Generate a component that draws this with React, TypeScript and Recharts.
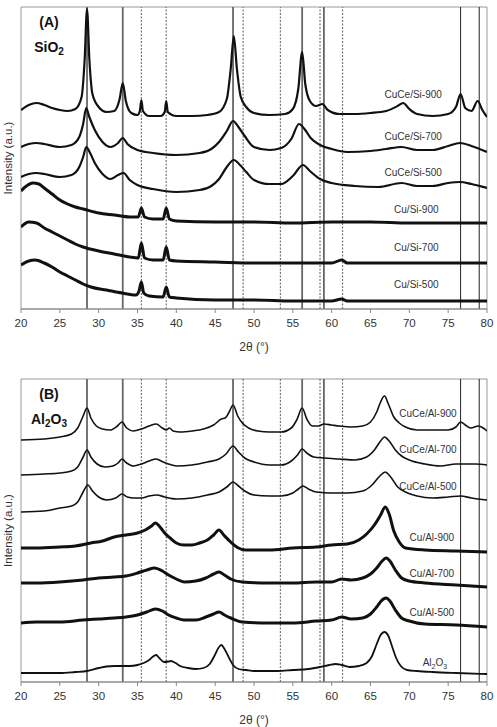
import React from 'react';
import { LineChart, Line, XAxis, YAxis, ReferenceLine, ReferenceArea, ReferenceDot } from 'recharts';

type P = [number, number];

const xTicks = [20, 25, 30, 35, 40, 45, 50, 55, 60, 65, 70, 75, 80];
const solidRefs = [28.5, 33.1, 47.3, 56.2, 59.0];
const thinRefs = [76.6, 79.0];
const dashedRefs = [35.5, 38.7, 48.6, 53.4, 58.5, 61.4];

// Panel A (SiO2)
const cuceSi900: P[] = [[20,199],[21,204],[22,206],[23,204],[24,201],[25,199],[26,198],[27,200],[27.8,212],[28.2,250],[28.5,300],[28.8,250],[29.2,215],[30,202],[31,197],[32,198],[32.7,210],[33.1,226],[33.5,208],[34.2,196],[35,194],[35.3,198],[35.5,209],[35.7,198],[36.5,193],[38,193],[38.5,197],[38.7,208],[38.9,197],[40,193],[42,193],[44,194],[45.5,197],[46.5,210],[47,240],[47.4,273],[47.8,240],[48.3,212],[49,202],[50,196],[52,194],[54,195],[55,200],[55.7,220],[56.2,257],[56.6,225],[57.2,208],[58,203],[58.8,205],[59.5,199],[61,195],[63,195],[65,196],[67,198],[68.5,203],[69.2,206],[70,200],[71,195],[73,193],[75,195],[76,202],[76.6,215],[77.2,201],[78,198],[78.8,208],[79.4,199],[80,192]];
const cuceSi700: P[] = [[20,162],[21,165],[22,166],[23,165],[25,162],[26.5,164],[27.5,172],[28,185],[28.4,201],[28.8,192],[29.5,179],[30.5,167],[31.5,162],[32.5,166],[33.1,171],[33.7,165],[35,159],[37,156],[40,154],[43,156],[44.5,160],[45.5,167],[46.5,178],[47.3,188],[48,182],[48.8,173],[50,162],[52,159],[53.5,161],[54.8,170],[55.8,185],[56.5,180],[57.3,171],[58.5,164],[60,160],[62,157],[65,158],[67,160],[69,162],[71,159],[73,159],[75,163],[76.5,166],[78,163],[80,157]];
const cuceSi500: P[] = [[20,132],[21,135],[22,136],[23,135],[25,132],[26.5,134],[27.5,142],[28,152],[28.4,162],[28.9,156],[29.5,146],[30.5,135],[31.5,130],[32.5,134],[33.2,136],[34,129],[35,124],[37,120],[40,117],[43,119],[44.5,123],[45.5,130],[46.5,142],[47.4,149],[48.2,144],[49,137],[50,129],[52,125],[53.5,125],[55,133],[56.3,144],[57.2,138],[58.5,130],[60,126],[63,123],[66,122],[69,126],[71,123],[73,123],[75,126],[76.5,127],[78,125],[80,121]];
const cuSi900: P[] = [[20,118],[20.7,123],[21.5,126],[22.3,125],[23,121],[24,115],[25,109],[26,105],[27,102],[28,100],[30,96],[32,94],[34,92],[35.1,92],[35.5,101],[35.9,92],[37,90],[38.3,90],[38.7,101],[39.1,90],[40,88],[45,87],[50,87],[55,86],[60,87],[65,87],[70,86],[75,86],[80,86]];
const cuSi700: P[] = [[20,82],[21,87],[22,86],[23,81],[24,77],[25,73],[26,69],[27,65],[28,62],[30,58],[32,55],[34,52],[35.1,51],[35.5,66],[35.9,51],[37,49],[38.3,49],[38.7,62],[39.1,49],[40,48],[45,47],[50,46],[55,46],[60,46],[61.3,49],[62,46],[65,46],[70,46],[75,46],[80,46]];
const cuSi500: P[] = [[20,44],[21,48],[21.8,49],[23,46],[24,42],[25,37],[26,33],[27,29],[28,25],[29,22],[31,19],[33,16],[34.8,14],[35.2,18],[35.5,27],[35.8,16],[36.5,13],[38.3,12],[38.7,22],[39.1,12],[40,11],[45,9],[50,9],[55,8],[60,8],[61.3,10],[62,8],[65,8],[70,8],[75,8],[80,8]];

// Panel B (Al2O3)
const cuceAl900: P[] = [[20,242],[23,243],[25,245],[26.5,248],[27.3,254],[28,266],[28.5,274],[29,264],[29.7,256],[30.5,253],[31.5,252],[32.4,256],[33,260],[33.6,254],[34.5,251],[35.5,253],[36.5,256],[37.4,258],[38.2,254],[38.7,252],[39.1,254],[39.6,251],[40.5,250],[42,251],[43.5,253],[44.8,257],[45.8,263],[46.3,264],[46.8,270],[47.3,277],[47.9,266],[48.5,259],[49.3,254],[50.5,251],[52,250],[53.5,250],[54.8,254],[55.5,262],[56.2,274],[56.8,263],[57.5,256],[58.3,256],[59,258],[60,257],[61,256],[62.5,255],[64,256],[65,260],[65.8,270],[66.3,280],[66.8,286],[67.3,278],[68,265],[68.7,259],[69.5,255],[71,252],[73,252],[75,252],[76,255],[76.6,260],[77.2,257],[77.9,254],[78.9,256],[79.5,254],[80,251]];
const cuceAl700: P[] = [[20,207],[23,208],[25,209],[26.5,211],[27.3,215],[28,225],[28.5,232],[29,225],[29.8,218],[30.8,215],[31.8,216],[32.5,219],[33,223],[33.6,219],[34.5,216],[35.5,218],[36.5,221],[37.4,223],[38.3,220],[39,218],[40,216],[42,217],[44,220],[45.5,223],[46.4,228],[47.3,236],[48,230],[48.8,224],[50,220],[52,217],[53.5,217],[54.8,221],[55.6,227],[56.2,233],[56.8,229],[57.7,225],[59,224],[61,223],[63,222],[64.5,225],[65.5,232],[66.3,241],[66.8,245],[67.4,241],[68.2,232],[69,226],[70,222],[72,218],[74,216],[76,218],[77,218],[78.5,218],[80,217]];
const cuceAl500: P[] = [[20,170],[23,171],[25,174],[26.5,176],[27.3,180],[28,190],[28.6,197],[29.2,191],[30,185],[31,182],[32.2,184],[33,188],[33.7,185],[34.5,184],[35.5,184],[36.5,186],[37.5,187],[38.5,185],[40,183],[42,184],[44,187],[45.5,190],[46.5,195],[47.3,200],[48,196],[48.8,191],[50,187],[52,186],[53.5,186],[55,189],[55.7,193],[56.3,196],[57,193],[58,190],[60,189],[62,189],[64,191],[65.2,197],[66.2,206],[66.9,210],[67.5,206],[68.5,195],[69.5,190],[71,186],[73,184],[75,185],[76.6,186],[78,184],[80,182]];
const cuAl900: P[] = [[20,134],[22,134],[25,135],[27,136],[29,139],[30.5,141],[32,145],[33.5,147],[35,149],[36,152],[36.8,156],[37.3,159],[37.9,155],[38.5,149],[39.2,144],[40,139],[41,137],[42,137],[43,139],[44,142],[44.8,147],[45.5,152],[46.1,147],[47,140],[48,134],[49,132],[52,132],[55,134],[58,135],[60,137],[62,138],[63.5,142],[64.5,148],[65.5,157],[66.3,167],[66.9,175],[67.4,168],[68,151],[68.7,140],[69.5,134],[72,132],[76,131],[80,130]];
const cuAl700: P[] = [[20,99],[22,99],[25,100],[28,102],[30,104],[32,105],[33.5,106],[35,109],[36.2,112],[37.2,114],[38.2,111],[39,107],[40,103],[41,100],[42.5,101],[43.8,104],[44.8,108],[45.5,110],[46.2,107],[47,103],[48.5,100],[52,99],[55,99],[58,100],[60,100],[61.3,103],[62.5,102],[64,104],[65,108],[65.8,114],[66.5,121],[67,124],[67.5,121],[68.2,112],[69,104],[70,101],[72,99],[76,97],[80,95]];
const cuAl500: P[] = [[20,59],[22,60],[25,60],[28,62],[30,63],[32,64],[33.5,65],[35,67],[36.2,70],[37.3,73],[38.2,71],[39,67],[40,64],[41,62],[42.5,62],[43.8,65],[44.8,68],[45.5,70],[46.2,67],[47,64],[48.5,60],[52,59],[55,59],[58,61],[60,62],[61.3,65],[62.5,63],[64,64],[65,68],[65.8,75],[66.5,82],[67,84],[67.5,81],[68.2,72],[69,64],[70,61],[72,58],[76,57],[80,55]];
const al2o3: P[] = [[20,9],[23,9],[25,9],[27,10],[28.5,11],[30,14],[31,15.5],[32,16],[33,16],[34,16],[35,17],[35.8,19],[36.5,22],[37.1,26],[37.4,27],[37.8,24],[38.4,20],[39,20.5],[39.3,21],[39.9,19],[40.5,16],[41.5,14],[42.5,13],[43.5,14],[44.3,18],[44.9,26],[45.5,35],[45.8,37],[46.2,33],[46.8,24],[47.3,17],[48,13],[49,12],[50,11],[53,11],[55,12],[57,13],[58.5,15],[59.7,17],[60.5,18],[61.3,17],[62.3,15],[63.5,16],[64.5,19],[65.2,26],[65.8,38],[66.3,47],[66.8,50],[67.3,46],[67.8,35],[68.3,24],[68.9,16],[69.7,12],[71,11],[73,10],[76,9],[80,8]];

const namesA = ['CuCe/Si-900', 'CuCe/Si-700', 'CuCe/Si-500', 'Cu/Si-900', 'Cu/Si-700', 'Cu/Si-500'];
const namesB = ['CuCe/Al-900', 'CuCe/Al-700', 'CuCe/Al-500', 'Cu/Al-900', 'Cu/Al-700', 'Cu/Al-500', 'Al2O3'];

type Series = { name: string; pts: P[]; w: number; lx: number; ly: number };

const seriesA: Series[] = [
  { name: namesA[0], pts: cuceSi900, w: 2.2, lx: 70.5, ly: 215 },
  { name: namesA[1], pts: cuceSi700, w: 2.2, lx: 70.5, ly: 173 },
  { name: namesA[2], pts: cuceSi500, w: 2.2, lx: 70.5, ly: 137 },
  { name: namesA[3], pts: cuSi900, w: 3, lx: 70.9, ly: 100 },
  { name: namesA[4], pts: cuSi700, w: 3, lx: 70.9, ly: 62 },
  { name: namesA[5], pts: cuSi500, w: 3, lx: 70.9, ly: 25 },
];
const seriesB: Series[] = [
  { name: namesB[0], pts: cuceAl900, w: 1.6, lx: 72.4, ly: 269 },
  { name: namesB[1], pts: cuceAl700, w: 1.6, lx: 72.4, ly: 233 },
  { name: namesB[2], pts: cuceAl500, w: 1.6, lx: 72.4, ly: 196 },
  { name: namesB[3], pts: cuAl900, w: 3, lx: 72.9, ly: 145 },
  { name: namesB[4], pts: cuAl700, w: 3, lx: 72.9, ly: 109 },
  { name: namesB[5], pts: cuAl500, w: 3, lx: 72.9, ly: 70 },
  { name: namesB[6], pts: al2o3, w: 1.8, lx: 73.3, ly: 20 },
];

const FONT = '"Liberation Sans", Arial, sans-serif';

const SeriesLabel = (props: any) => {
  const { viewBox, text } = props;
  const cx = viewBox.x + (viewBox.width || 0) / 2;
  const cy = viewBox.y + (viewBox.height || 0) / 2;
  const m = /^([A-Za-z]+)(\d)([A-Za-z]+)(\d)$/.exec(text);
  return (
    <text x={cx} y={cy} dy="0.35em" textAnchor="middle" fontSize={10} fill="#333" fontFamily={FONT}>
      {m ? (
        <>
          {m[1]}
          <tspan dy={3} fontSize={7}>{m[2]}</tspan>
          <tspan dy={-3}>{m[3]}</tspan>
          <tspan dy={3} fontSize={7}>{m[4]}</tspan>
        </>
      ) : text}
    </text>
  );
};

const toPts = (a: P[]) => a.map(([x, y]) => ({ x, y }));

function Panel({ top, height, yMax, series, title, sub }: { top: number; height: number; yMax: number; series: Series[]; title: string; sub: React.ReactNode }) {
  return (
    <div style={{ position: 'absolute', left: 0, top, width: 497, height }}>
      <LineChart width={497} height={height} margin={{ top: 7, right: 10, bottom: 1, left: 0 }}>
        <XAxis
          type="number"
          dataKey="x"
          domain={[20, 80]}
          ticks={xTicks}
          allowDataOverflow
          tickSize={4}
          tickMargin={6}
          stroke="#888"
          height={44}
          tick={{ fill: '#333', fontSize: 11.5, fontFamily: FONT }}
          label={{ value: '2θ (°)', position: 'insideBottom', offset: 2, fill: '#333', fontSize: 12, fontFamily: FONT }}
        />
        <YAxis
          type="number"
          domain={[0, yMax]}
          allowDataOverflow
          width={21}
          tick={false}
          axisLine={false}
          tickLine={false}
          label={{ value: 'Intensity (a.u.)', angle: -90, position: 'insideLeft', offset: 8, style: { textAnchor: 'middle' }, fill: '#333', fontSize: 11.5, fontFamily: FONT }}
        />
        <ReferenceArea x1={20} x2={80} y1={0} y2={yMax} fill="none" fillOpacity={0} stroke="#999" strokeWidth={1} />
        {solidRefs.map((x) => (
          <ReferenceLine key={'s' + x} x={x} stroke="#666" strokeWidth={1.8} />
        ))}
        {thinRefs.map((x) => (
          <ReferenceLine key={'t' + x} x={x} stroke="#222" strokeWidth={1} />
        ))}
        {dashedRefs.map((x) => (
          <ReferenceLine key={'d' + x} x={x} stroke="#777" strokeWidth={1.2} strokeDasharray="2 1.5" />
        ))}
        {series.map((s) => (
          <Line
            key={s.name}
            data={toPts(s.pts)}
            dataKey="y"
            type="monotone"
            stroke="#111"
            strokeWidth={s.w}
            dot={false}
            activeDot={false}
            isAnimationActive={false}
          />
        ))}
        {series.map((s) => (
          <ReferenceDot key={'l' + s.name} x={s.lx} y={s.ly} r={0} fill="none" stroke="none" label={<SeriesLabel text={s.name} />} />
        ))}
      </LineChart>
      <div style={{ position: 'absolute', left: 49, top: 22, transform: 'translate(-50%,-50%)', fontFamily: FONT, fontWeight: 'bold', fontSize: 14, color: '#111', whiteSpace: 'nowrap' }}>{title}</div>
      <div style={{ position: 'absolute', left: 49, top: 48, transform: 'translate(-50%,-50%)', fontFamily: FONT, fontWeight: 'bold', fontSize: 14, color: '#111', whiteSpace: 'nowrap' }}>{sub}</div>
    </div>
  );
}

export default function App() {
  return (
    <div style={{ position: 'absolute', left: 0, top: 0, width: 497, height: 727, background: '#fff' }}>
      <Panel top={0} height={354} yMax={302} series={seriesA} title="(A)" sub={<span>SiO<sub style={{ fontSize: 10 }}>2</sub></span>} />
      <Panel top={372} height={355} yMax={303} series={seriesB} title="(B)" sub={<span>Al<sub style={{ fontSize: 10 }}>2</sub>O<sub style={{ fontSize: 10 }}>3</sub></span>} />
    </div>
  );
}
